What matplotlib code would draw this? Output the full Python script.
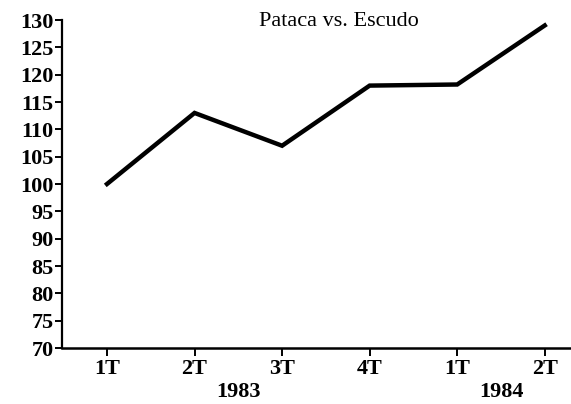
import matplotlib
matplotlib.use("Agg")
import matplotlib.pyplot as plt

# quarters and index values (Pataca vs. Escudo)
quarters = ["1T", "2T", "3T", "4T", "1T", "2T"]
values = [100, 113, 107, 118, 118.2, 129]
years = ["1983", "1984"]
year_pos = [1.5, 4.5]
yticks = list(range(70, 131, 5))

plt.rcParams['font.family'] = ['Liberation Serif', 'DejaVu Serif']

fig = plt.figure(figsize=(5.71, 4.04), dpi=100)
ax = fig.add_axes([62/571, 1 - 348/404, 1 - 62/571, (348 - 20)/404])

x = list(range(len(quarters)))
ax.plot(x, values, color="black", lw=3.2, solid_joinstyle="miter")

ax.set_ylim(70, 130)
ax.set_xlim(-0.514, 5.30)
ax.set_yticks(yticks)
ax.set_yticklabels([str(t) for t in yticks], fontsize=16, fontweight="bold")
ax.set_xticks(x)
ax.set_xticklabels(quarters, fontsize=16, fontweight="bold")

ax.spines["top"].set_visible(False)
ax.spines["right"].set_visible(False)
ax.spines["left"].set_linewidth(1.6)
ax.spines["bottom"].set_linewidth(1.8)
ax.tick_params(axis="y", length=5, width=1.4, pad=1)
ax.tick_params(axis="x", length=6, width=1.4, pad=2)

for yr, p in zip(years, year_pos):
    ax.text(p, -0.135, yr, transform=ax.get_xaxis_transform(), ha="center",
            va="center", fontsize=16, fontweight="bold")

fig.text(339/571, 1 - 22/404, "Pataca vs. Escudo", ha="center", va="center",
         fontsize=16)

fig.savefig("out.png", dpi=100)
